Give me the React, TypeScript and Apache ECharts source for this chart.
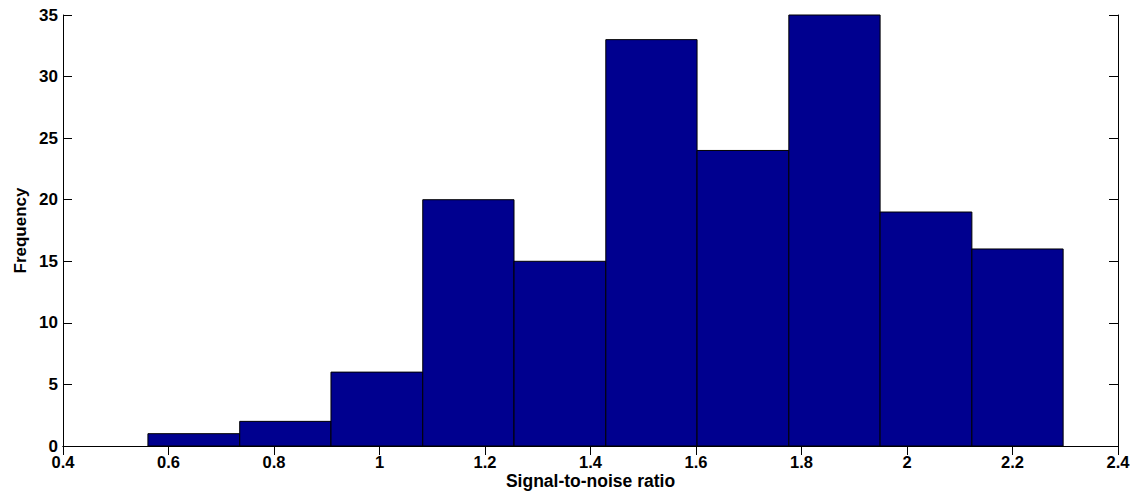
import React, { useEffect, useRef } from "react";
import * as echarts from "echarts";

const binEdges = [0.561, 0.735, 0.908, 1.082, 1.255, 1.429, 1.602, 1.776, 1.949, 2.123, 2.296];
const counts = [1, 2, 6, 20, 15, 33, 24, 35, 19, 16];
const xTicks = { min: 0.4, max: 2.4, interval: 0.2 };
const yTicks = { min: 0, max: 35, interval: 5 };
const xTitle = "Signal-to-noise ratio";
const yTitle = "Frequency";

const FONT = "'Liberation Sans', Arial, Helvetica, sans-serif";
const GRID = { left: 63, right: 26, top: 15, bottom: 46 };
const W = 1144;
const H = 492;

export default function App() {
  const ref = useRef<HTMLDivElement>(null);
  useEffect(() => {
    if (!ref.current) return;
    const chart = echarts.init(ref.current, null, { renderer: "svg" });
    const data = counts.map((c, i) => [binEdges[i], binEdges[i + 1], c]);
    const fmt = (v: number) => String(+Number(v).toFixed(1));
    const axisLine = { show: true, lineStyle: { color: "#000", width: 1 } };
    const tick = { show: true, inside: true, length: 9, lineStyle: { color: "#000", width: 1 } };
    const plotCx = (GRID.left + (W - GRID.right)) / 2;
    const plotCy = (GRID.top + (H - GRID.bottom)) / 2;
    chart.setOption({
      animation: false,
      backgroundColor: "#fff",
      grid: { ...GRID, containLabel: false, outerBoundsMode: "none" },
      graphic: [
        {
          type: "text",
          x: plotCx,
          y: 481,
          style: {
            text: xTitle,
            fill: "#000",
            font: `bold 17.5px ${FONT}`,
            textAlign: "center",
            textVerticalAlign: "middle",
            align: "center",
            verticalAlign: "middle",
          },
        },
        {
          type: "text",
          x: 20,
          y: plotCy,
          rotation: Math.PI / 2,
          style: {
            text: yTitle,
            fill: "#000",
            font: `bold 17px ${FONT}`,
            textAlign: "center",
            textVerticalAlign: "middle",
            align: "center",
            verticalAlign: "middle",
          },
        },
      ],
      xAxis: [
        {
          type: "value",
          position: "bottom",
          ...xTicks,
          axisLine,
          axisTick: tick,
          splitLine: { show: false },
          axisLabel: {
            formatter: fmt,
            color: "#000",
            fontFamily: FONT,
            fontWeight: "bold",
            fontSize: 16.5,
            lineHeight: 16,
            margin: 8,
          },
        },
        {
          type: "value",
          position: "top",
          ...xTicks,
          axisLine,
          axisTick: tick,
          splitLine: { show: false },
          axisLabel: { show: false },
        },
      ],
      yAxis: [
        {
          type: "value",
          position: "left",
          ...yTicks,
          axisLine,
          axisTick: tick,
          splitLine: { show: false },
          axisLabel: {
            color: "#000",
            fontFamily: FONT,
            fontWeight: "bold",
            fontSize: 17,
            lineHeight: 14,
            margin: 5,
          },
        },
        {
          type: "value",
          position: "right",
          ...yTicks,
          axisLine,
          axisTick: tick,
          splitLine: { show: false },
          axisLabel: { show: false },
        },
      ],
      series: [
        {
          type: "custom",
          xAxisIndex: 0,
          yAxisIndex: 0,
          data,
          encode: { x: [0, 1], y: 2 },
          renderItem: (params: any, api: any) => {
            const x0 = api.value(0);
            const x1 = api.value(1);
            const y = api.value(2);
            const p0 = api.coord([x0, y]);
            const p1 = api.coord([x1, 0]);
            return {
              type: "rect",
              shape: { x: p0[0], y: p0[1], width: p1[0] - p0[0], height: p1[1] - p0[1] },
              style: { fill: "#00008F", stroke: "#000", lineWidth: 1 },
            };
          },
        },
      ],
    });
    return () => chart.dispose();
  }, []);
  return (
    <div
      ref={ref}
      style={{ position: "fixed", left: 0, top: 0, width: W, height: H, background: "#fff" }}
    />
  );
}
